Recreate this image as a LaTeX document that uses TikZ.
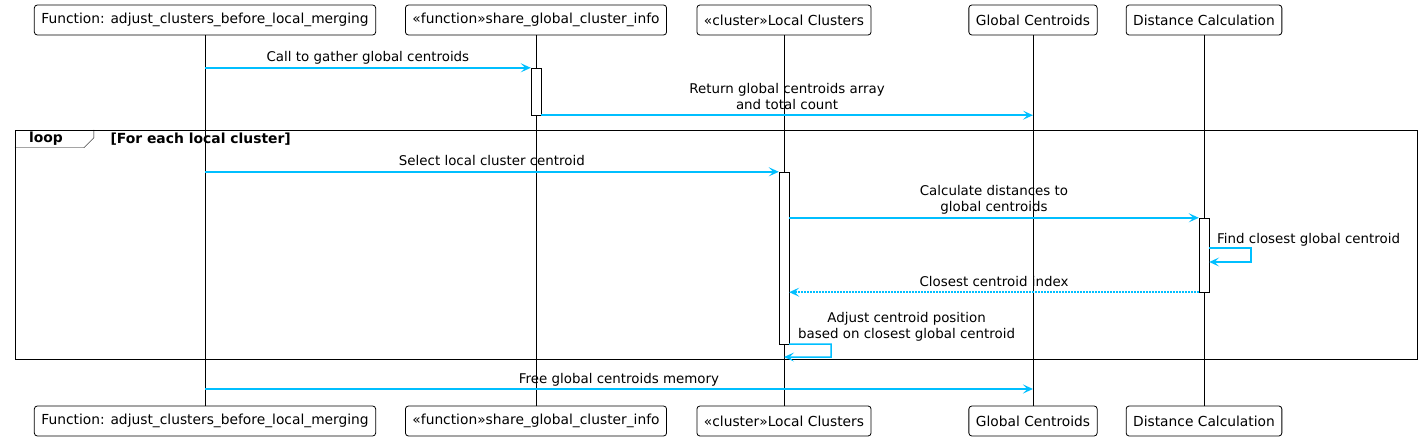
\documentclass[tikz,border=0pt]{standalone}
\usepackage{fontspec}
\setmainfont{DejaVu Sans}
\usetikzlibrary{arrows.meta}
\definecolor{msgblue}{RGB}{0,191,255}

\begin{document}
\begin{tikzpicture}[x=1pt, y=-1pt, every node/.style={font=\fontsize{13.4}{16}\selectfont}, >={Stealth[length=10pt, width=9pt, inset=4.5pt]},
	part/.style={draw, line width=0.8pt, rounded corners=3pt, inner xsep=7pt, minimum height=30pt, fill=white, font=\fontsize{13.8}{16}\selectfont},
	actbox/.style={draw, fill=white, minimum width=10pt, inner sep=0pt},
	msg/.style={->, draw=msgblue, line width=1.5pt},
	reply/.style={msg, dash pattern=on 1.5pt off 1.5pt},
	lbl/.style={above=1pt, align=center, inner sep=1pt, text depth=3.2pt},
	fraglbl/.style={font=\fontsize{13.9}{16}\selectfont\bfseries}]
	\useasboundingbox (0,0) rectangle (1422,441);
	% participants and lifelines
	\foreach \n/\x/\t in {1/205/{Function: adjust\_clusters\_before\_local\_merging}, 2/536/{«function»share\_global\_cluster\_info}, 3/784/{«cluster»Local Clusters}, 4/1033/{Global Centroids}, 5/1204/{Distance Calculation}} {
		\node[part] (t\n) at (\x,20) {\t};
		\node[part] (b\n) at (\x,421) {\t};
		\draw (t\n) -- (b\n);
	}
	% loop fragment
	\node[draw, minimum width=1402pt, minimum height=229pt, inner sep=0pt] (frame) at (716,244.5) {};
	\draw (frame.north west) ++(0,18) -- ++(69,0) -- ++(10,-10) -- ++(0,-8);
	\node[fraglbl] (lp) at (46,139) {loop};
	\node[fraglbl, anchor=west] (cond) at (107,139) {[For each local cluster]};
	% activations
	\node[actbox, minimum height=47pt] (a1) at (536,91.5) {};
	\node[actbox, minimum height=172pt] (a2) at (784,258) {};
	\node[actbox, minimum height=74pt] (a3) at (1204,255) {};
	\coordinate (fr) at (0,389);
	% messages
	\draw[msg] (t1 |- a1.north) -- (a1.north west) node[lbl, midway] {Call to gather global centroids};
	\draw[msg] (a1.south east) -- (t4 |- a1.south) node[lbl, midway] {Return global centroids array\\and total count};
	\draw[msg] (t1 |- a2.north) -- (a2.north west) node[lbl, midway] {Select local cluster centroid};
	\draw[msg] (a2.east |- a3.north) -- (a3.north west) node[lbl, midway] {Calculate distances to\\global centroids};
	\draw[msg] (a3.east |- 0,248) -- ++(42,0) -- ++(0,14) -- (a3.east |- 0,262);
	\node[anchor=west, inner sep=1pt] (find) at (1216,240) {Find closest global centroid};
	\draw[reply] (a3.south west) -- (a2.east |- a3.south) node[lbl, midway] {Closest centroid index};
	\draw[msg] (a2.south east) -- ++(42,0) -- ++(0,13) -- (t3 |- 0,357);
	\node[anchor=south west, align=center, inner sep=1pt] (adj) at (797,342) {Adjust centroid position\\based on closest global centroid};
	\draw[msg] (t1 |- fr) -- (t4 |- fr) node[lbl, midway] {Free global centroids memory};
\end{tikzpicture}
\end{document}
